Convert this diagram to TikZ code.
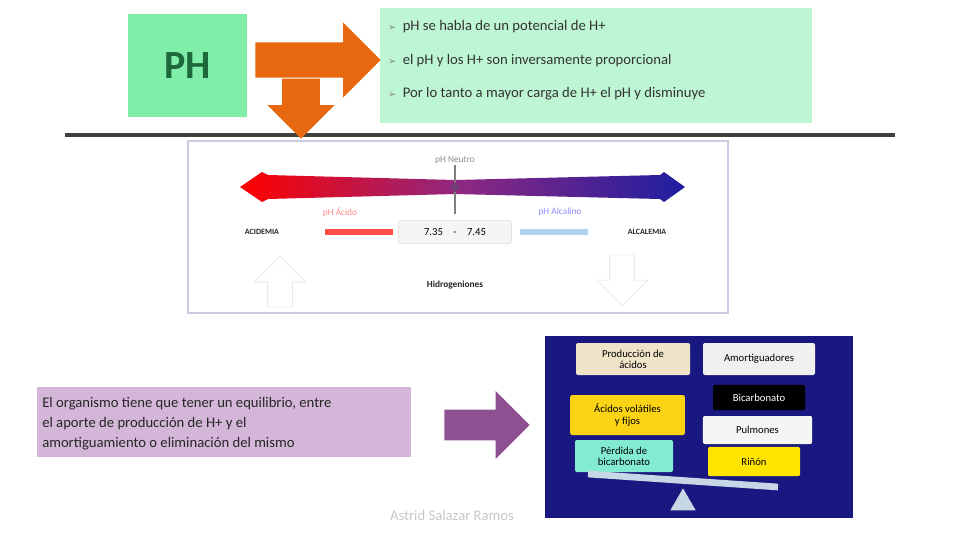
\documentclass[tikz,border=0pt]{standalone}
\usepackage{fontspec}
\setmainfont{Carlito}
\newfontfamily\symfont{DejaVu Sans}
\usetikzlibrary{positioning}
\usetikzlibrary{shapes,shapes.arrows,shapes.geometric}
\usetikzlibrary{calc}

\definecolor{phgreen}{RGB}{128,238,168}
\definecolor{txtgreen}{RGB}{190,246,212}
\definecolor{phdark}{RGB}{30,105,60}
\definecolor{orangearrow}{RGB}{232,104,16}
\definecolor{lilac}{RGB}{212,182,216}
\definecolor{purplearrow}{RGB}{142,80,146}
\definecolor{panelblue}{RGB}{24,24,128}
\definecolor{beige}{RGB}{240,228,200}
\definecolor{gold}{RGB}{250,212,20}
\definecolor{lemon}{RGB}{255,228,0}
\definecolor{mint}{RGB}{130,235,210}
\definecolor{beamgray}{RGB}{200,215,230}
\definecolor{scaleframe}{RGB}{200,205,228}

\tikzstyle{bigarrow}=[single arrow,draw=none,inner xsep=0pt,single arrow tip angle=90,anchor=tip]
\tikzstyle{bullettext}=[anchor=west,inner sep=0pt,font=\fontsize{11}{13}\selectfont,text=black!80]
\tikzstyle{scalelabel}=[inner sep=1pt,font=\fontsize{6}{7}\selectfont\bfseries,text=black!85]
\tikzstyle{phlabel}=[inner sep=1pt,font=\fontsize{7}{8}\selectfont]
\tikzstyle{panelbox}=[rectangle,rounded corners=1.5pt,inner sep=1pt,align=center,font=\fontsize{8}{8.5}\selectfont]

\begin{document}
\begin{tikzpicture}[x=0.75pt,y=-0.75pt]
\useasboundingbox (0,0) rectangle (960,540);

% PH and the notes on it
    \node[fill=phgreen,minimum width=89pt,minimum height=77pt,text=phdark,font=\fontsize{30}{30}\selectfont\bfseries] (ph) at (187.5,65.5) {PH};
    \node[fill=txtgreen,minimum width=324pt,minimum height=86pt,anchor=north west] (info) at (380,8) {};

    \foreach \y/\name/\label in {27/b1/{pH se habla de un potencial de H+}, 61/b2/{el pH y los H+ son inversamente proporcional}, 94/b3/{Por lo tanto a mayor carga de H+ el pH y disminuye}}
        \node[bullettext] (\name) at (388,\y) {{\symfont\fontsize{7}{8}\selectfont\color{black!50}➢}\hspace{5pt}\label};

    % separating rule
    \coordinate (ruleL) at (65,135);
    \coordinate (ruleR) at (895,135);
    \draw[line width=3pt,black!75] (ruleL) -- (ruleR);

    % orange arrows
    \node[bigarrow,fill=orangearrow,minimum height=94pt,inner ysep=13pt,single arrow head extend=15pt] (toinfo) at (381,60) {};
    \node[bigarrow,fill=orangearrow,minimum height=45pt,inner ysep=14pt,single arrow head extend=11pt,rotate=-90] (toscale) at (301,139) {};

% pH scale
    \node[draw=scaleframe,line width=1.5pt,fill=white,minimum width=405pt,minimum height=129pt,anchor=north west] (scale) at (187,140) {};

    \shade[left color=red,right color={rgb,255:red,30;green,30;blue,160},middle color={rgb,255:red,140;green,40;blue,130}]
        (240,187) -- (262,172) -- (268,175) -- (455,180) -- (660,175) -- (664,172) -- (685,187)
        -- (664,202) -- (660,199) -- (455,194) -- (268,199) -- (262,202) -- cycle;

    \node[phlabel,text=black!45] (neutro) at (455,160) {pH Neutro};
    \coordinate (tick) at (455,214);
    \draw[black!50,line width=0.8pt] (neutro.south) -- (tick);
    \node[diamond,fill={rgb,255:red,120;green,60;blue,120},minimum size=8pt,inner sep=0pt] (mark) at (455,187) {};

    \node[phlabel,text=red!45] (acido) at (340,212) {pH Ácido};
    \node[phlabel,text=blue!45] (alcalino) at (560,212) {pH Alcalino};

    \node[scalelabel] (acidemia) at (262,232) {ACIDEMIA};
    \node[fill=red!70,minimum width=51pt,minimum height=5pt,inner sep=0pt] (redbar) at (359,232) {};
    \node[draw=black!15,fill=black!4,rounded corners=2pt,minimum width=85pt,minimum height=17pt,font=\fontsize{8}{9}\selectfont] (range) at (455,232) {7.35 \hspace{6pt}-\hspace{6pt} 7.45};
    \node[fill={rgb,255:red,175;green,210;blue,238},minimum width=51pt,minimum height=5pt,inner sep=0pt] (bluebar) at (554,232) {};
    \node[scalelabel] (alcalemia) at (647,232) {ALCALEMIA};

    \node[scalelabel,font=\fontsize{7}{8}\selectfont\bfseries] (hidro) at (455,285) {Hidrogeniones};

    \node[bigarrow,draw=black!12,fill=none,minimum height=38pt,inner ysep=9pt,single arrow head extend=10pt,rotate=90] (up) at (280,256) {};
    \node[bigarrow,draw=black!12,fill=none,minimum height=38pt,inner ysep=9pt,single arrow head extend=10pt,rotate=-90] (down) at (622,306) {};

% balance
    \node[fill=lilac,minimum width=280pt,minimum height=52.5pt,anchor=north west] (equil) at (37,387) {};
    \node[anchor=west,align=left,inner sep=0pt,font=\fontsize{11}{15}\selectfont,text=black!85] (equiltext) at (42,424)
        {El organismo tiene que tener un equilibrio, entre\\el aporte de producción de H+ y el\\amortiguamiento o eliminación del mismo};

    \node[bigarrow,fill=purplearrow,minimum height=64pt,inner ysep=11.25pt,single arrow head extend=14pt] (topanel) at (530,425) {};

    \node[fill=panelblue,minimum width=231pt,minimum height=136.5pt,anchor=north west] (panel) at (545,336) {};

    \foreach \pos/\name/\col/\tcol/\w/\h/\label in {{(633,359)/prod/beige/black/85.5pt/24pt/Producción de\\ácidos},
        {(759,359)/amort/black!6/black/84pt/24pt/Amortiguadores},
        {(627.5,415)/volat/gold/black/86pt/30pt/Ácidos volátiles\\y fijos},
        {(759,397.5)/bicarb/black/white/69pt/19pt/Bicarbonato},
        {(757.5,430)/pulm/black!4/black/82pt/21pt/Pulmones},
        {(754,461.5)/rinon/lemon/black/69pt/22pt/Riñón},
        {(624,456)/perdida/mint/black/73.5pt/24pt/Pérdida de\\bicarbonato}}
        \node[panelbox,fill=\col,text=\tcol,minimum width=\w,minimum height=\h] (\name) at \pos {\label};

    % beam of the scale
    \coordinate (beamL) at (588,474);
    \coordinate (beamR) at (778,487);
    \draw[line width=5pt,beamgray] (beamL) -- (beamR);
    \node[regular polygon,regular polygon sides=3,fill=beamgray,minimum size=22pt,inner sep=0pt] (fulcrum) at (683,503) {};

    \node[text=black!22,font=\fontsize{11}{13}\selectfont] (autor) at (452,515) {Astrid Salazar Ramos};

\end{tikzpicture}
\end{document}
